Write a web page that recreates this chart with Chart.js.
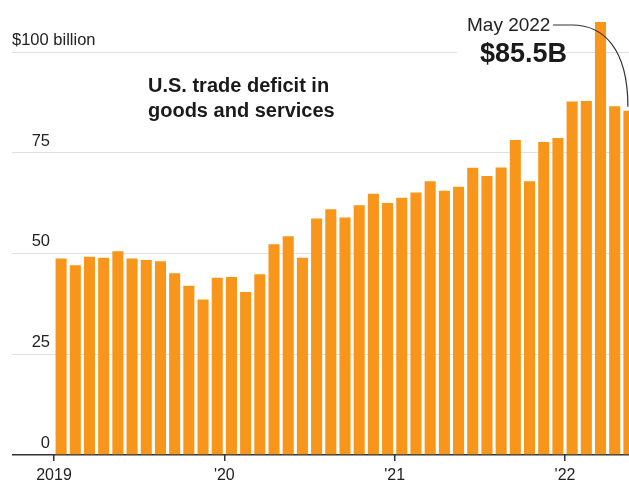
<!DOCTYPE html>
<html>
<head>
<meta charset="utf-8">
<script src="https://cdn.jsdelivr.net/npm/chart.js@4/dist/chart.umd.min.js"></script>
<style>
  html, body { margin: 0; padding: 0; background: #fff; overflow: hidden; }
  #wrap { width: 636px; height: 480px; }
</style>
</head>
<body>
<div id="wrap"><canvas id="deficit" width="636" height="480"></canvas></div>
<script>
var months = [
    "Jan 2019", "Feb 2019", "Mar 2019", "Apr 2019", "May 2019", "Jun 2019",
    "Jul 2019", "Aug 2019", "Sep 2019", "Oct 2019", "Nov 2019", "Dec 2019",
    "Jan 2020", "Feb 2020", "Mar 2020", "Apr 2020", "May 2020", "Jun 2020",
    "Jul 2020", "Aug 2020", "Sep 2020", "Oct 2020", "Nov 2020", "Dec 2020",
    "Jan 2021", "Feb 2021", "Mar 2021", "Apr 2021", "May 2021", "Jun 2021",
    "Jul 2021", "Aug 2021", "Sep 2021", "Oct 2021", "Nov 2021", "Dec 2021",
    "Jan 2022", "Feb 2022", "Mar 2022", "Apr 2022", "May 2022"
];

// trade deficit, $ billion
var deficit = [
    48.8, 47.1, 49.2, 49.0, 50.6, 48.8, 48.4, 48.1, 45.1, 42.0, 38.6, 44.0,
    44.2, 40.5, 44.9, 52.3, 54.3, 49.0, 58.7, 61.0, 59.0, 62.0, 64.9, 62.6,
    63.9, 65.2, 68.0, 65.6, 66.6, 71.3, 69.3, 71.4, 78.2, 68.0, 77.7, 78.7,
    87.8, 87.9, 107.5, 86.6, 85.5
];

var yearLabels = ["2019", "'20", "'21", "'22"];
var yTicks = [0, 25, 50, 75, 100];
var topLabel = "$100 billion";
var titleLines = ["U.S. trade deficit in", "goods and services"];
var calloutMonth = "May 2022";
var calloutValue = "$85.5B";

var FONT = "'Liberation Sans', Arial, sans-serif";

var notes = {
    id: "notes",
    beforeDatasetsDraw: function(chart) {
        var ctx = chart.ctx;
        var y = chart.scales.y;
        // knock out the gridline behind the callout value
        ctx.save();
        ctx.fillStyle = "#fff";
        ctx.fillRect(457, y.getPixelForValue(100) - 12, 109, 24);
        ctx.restore();
    },
    afterDraw: function(chart) {
        var ctx = chart.ctx;
        var y = chart.scales.y;
        ctx.save();
        ctx.fillStyle = "#222";
        ctx.textBaseline = "middle";
        ctx.textAlign = "left";
        ctx.font = "16.5px " + FONT;
        ctx.fillText(topLabel, 12, y.getPixelForValue(100) - 12);

        ctx.textBaseline = "alphabetic";
        ctx.font = "bold 20px " + FONT;
        ctx.fillStyle = "#1a1a1a";
        ctx.fillText(titleLines[0], 148, 92);
        ctx.fillText(titleLines[1], 148, 117);

        ctx.font = "19px " + FONT;
        ctx.fillStyle = "#222";
        ctx.fillText(calloutMonth, 467, 31);
        ctx.font = "bold 27px " + FONT;
        ctx.fillStyle = "#1a1a1a";
        ctx.fillText(calloutValue, 480, 62);

        var bar = chart.getDatasetMeta(0).data[deficit.length - 1];
        var ex = bar.x - 1;
        var ey = bar.y - 4;
        ctx.strokeStyle = "#333";
        ctx.lineWidth = 1.2;
        ctx.beginPath();
        ctx.moveTo(553, 25);
        ctx.lineTo(572, 25);
        ctx.bezierCurveTo(603, 25, ex, 48, ex, ey);
        ctx.stroke();
        ctx.restore();
    }
};

new Chart(document.getElementById("deficit"), {
    type: "bar",
    data: {
        labels: months,
        datasets: [{
            data: deficit,
            backgroundColor: "#f7961a",
            borderWidth: 0,
            barPercentage: 0.78,
            categoryPercentage: 1.0
        }]
    },
    options: {
        responsive: false,
        animation: false,
        layout: { padding: { top: 12, right: 0, left: 0, bottom: 0 } },
        plugins: {
            legend: { display: false },
            tooltip: { enabled: false }
        },
        scales: {
            x: {
                offset: true,
                border: { display: false },
                grid: {
                    offset: true,
                    drawOnChartArea: false,
                    tickLength: 6,
                    lineWidth: 1.5,
                    color: function(c) {
                        return c.index % 12 === 0 ? "#333" : "rgba(0,0,0,0)";
                    }
                },
                ticks: {
                    autoSkip: false,
                    maxRotation: 0,
                    minRotation: 0,
                    padding: 5,
                    labelOffset: -7.1,
                    color: "#222",
                    font: { family: FONT, size: 16 },
                    callback: function(v, i) {
                        return i % 12 === 0 ? yearLabels[i / 12] : "";
                    }
                },
                afterFit: function(s) { s.height = 25; }
            },
            y: {
                min: 0,
                max: 110,
                border: { display: false },
                afterBuildTicks: function(s) {
                    s.ticks = yTicks.map(function(v) { return { value: v }; });
                },
                grid: {
                    tickLength: 42,
                    color: function(c) {
                        return c.tick && c.tick.value === 0 ? "#333" : "#e0e0e0";
                    },
                    lineWidth: function(c) {
                        return c.tick && c.tick.value === 0 ? 1.5 : 1;
                    }
                },
                ticks: {
                    padding: -38,
                    labelOffset: -12,
                    color: "#222",
                    font: { family: FONT, size: 16.5 },
                    callback: function(v) {
                        return v === 100 ? "" : v;
                    }
                },
                afterFit: function(s) { s.width = 54; }
            }
        }
    },
    plugins: [notes]
});
</script>
</body>
</html>
